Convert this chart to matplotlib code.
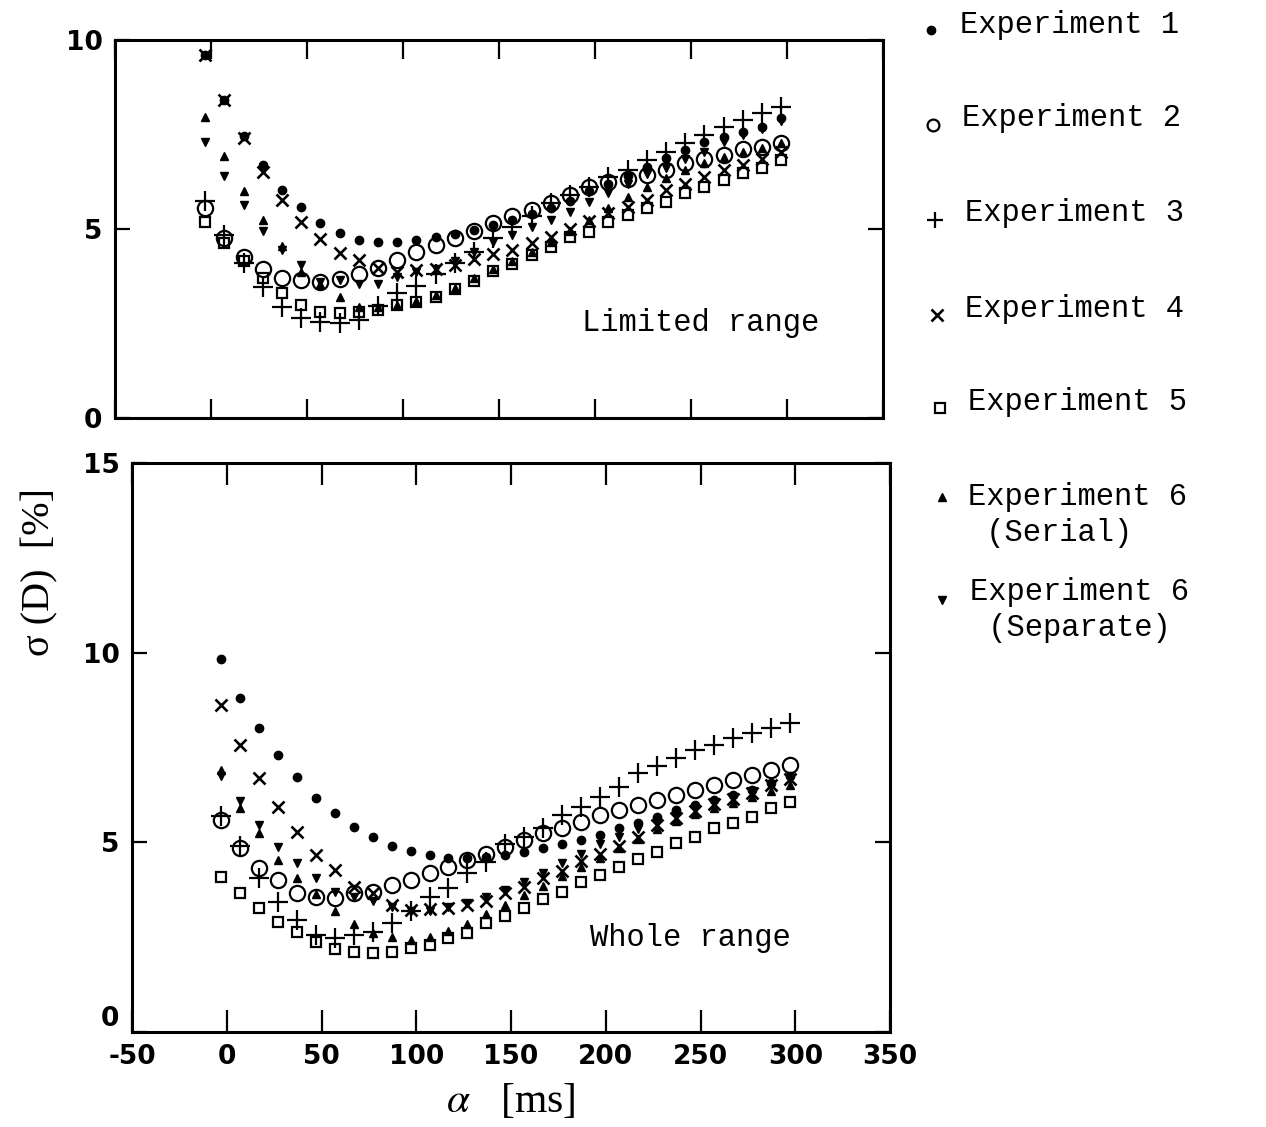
import matplotlib
matplotlib.use('Agg')
import matplotlib.pyplot as plt
from matplotlib.lines import Line2D

plt.rcParams.update({
    'font.family': 'DejaVu Sans',
    'mathtext.fontset': 'stix',
    'axes.linewidth': 2.2,
    'axes.unicode_minus': False,
})

# alpha [ms] sampling (same for every experiment)
ALPHA = [-3, 7, 17, 27, 37, 47, 57, 67, 77, 87, 97, 107, 117, 127, 137, 147,
         157, 167, 177, 187, 197, 207, 217, 227, 237, 247, 257, 267, 277, 287, 297]

# --- Limited range (top panel) ---
TOP_E1 = [9.6, 8.4, 7.45, 6.7, 6.03, 5.58, 5.16, 4.9, 4.72, 4.66, 4.66, 4.7, 4.8, 4.88, 4.98, 5.1,
          5.25, 5.4, 5.55, 5.75, 6.0, 6.2, 6.4, 6.65, 6.88, 7.1, 7.3, 7.43, 7.57, 7.7, 7.94]
TOP_E2 = [5.55, 4.76, 4.26, 3.94, 3.7, 3.65, 3.6, 3.68, 3.8, 3.97, 4.18, 4.38, 4.58, 4.76, 4.94, 5.16,
          5.35, 5.5, 5.7, 5.9, 6.1, 6.25, 6.32, 6.42, 6.55, 6.75, 6.85, 6.96, 7.12, 7.16, 7.28]
TOP_E3 = [5.75, 4.85, 4.1, 3.47, 2.94, 2.65, 2.55, 2.5, 2.6, 2.95, 3.3, 3.5, 3.8, 4.1, 4.4, 4.75,
          5.05, 5.35, 5.68, 5.9, 6.1, 6.38, 6.56, 6.83, 7.04, 7.27, 7.49, 7.7, 7.88, 8.07, 8.23]
TOP_E4 = [9.6, 8.4, 7.4, 6.5, 5.77, 5.19, 4.73, 4.36, 4.18, 3.97, 3.85, 3.92, 3.95, 4.05, 4.2, 4.33,
          4.44, 4.63, 4.79, 5.0, 5.2, 5.42, 5.58, 5.77, 6.03, 6.2, 6.38, 6.56, 6.7, 6.85, 7.05]
TOP_E5 = [5.19, 4.63, 4.15, 3.7, 3.3, 2.99, 2.8, 2.78, 2.8, 2.86, 2.99, 3.07, 3.2, 3.42, 3.63, 3.88,
          4.08, 4.31, 4.52, 4.79, 4.92, 5.19, 5.37, 5.56, 5.71, 5.95, 6.11, 6.3, 6.48, 6.61, 6.83]
TOP_E6_SER = [7.96, 6.93, 6.0, 5.25, 4.55, 3.85, 3.55, 3.2, 2.94, 2.94, 3.0, 3.1, 3.25, 3.45, 3.7, 3.95,
              4.15, 4.4, 4.65, 4.95, 5.25, 5.55, 5.85, 6.1, 6.35, 6.55, 6.75, 6.9, 7.05, 7.14, 7.28]
TOP_E6_SEP = [7.3, 6.4, 5.63, 4.95, 4.45, 4.05, 3.6, 3.65, 3.55, 3.55, 3.73, 3.85, 3.95, 4.15, 4.4, 4.66,
              4.84, 5.05, 5.25, 5.45, 5.71, 5.95, 6.2, 6.45, 6.62, 6.85, 7.05, 7.3, 7.48, 7.65, 7.85]

# --- Whole range (bottom panel) ---
BOT_E1 = [9.82, 8.81, 8.02, 7.31, 6.73, 6.17, 5.78, 5.41, 5.14, 4.91, 4.78, 4.66, 4.6, 4.6, 4.62, 4.67,
          4.75, 4.85, 4.95, 5.07, 5.2, 5.38, 5.51, 5.67, 5.86, 5.99, 6.12, 6.25, 6.38, 6.57, 6.75]
BOT_E2 = [5.59, 4.85, 4.33, 4.0, 3.67, 3.57, 3.53, 3.67, 3.7, 3.88, 4.0, 4.2, 4.35, 4.54, 4.7, 4.88,
          5.07, 5.25, 5.38, 5.54, 5.73, 5.86, 5.99, 6.12, 6.25, 6.39, 6.52, 6.65, 6.78, 6.91, 7.04]
BOT_E3 = [5.7, 4.9, 4.06, 3.43, 2.96, 2.56, 2.48, 2.56, 2.64, 2.88, 3.2, 3.55, 3.8, 4.2, 4.49, 4.95,
          5.15, 5.38, 5.73, 5.94, 6.2, 6.46, 6.83, 7.0, 7.23, 7.44, 7.57, 7.76, 7.89, 8.02, 8.15]
BOT_E4 = [8.63, 7.57, 6.7, 5.94, 5.28, 4.67, 4.27, 3.83, 3.67, 3.35, 3.22, 3.25, 3.27, 3.35, 3.45, 3.67,
          3.83, 4.05, 4.25, 4.5, 4.7, 4.9, 5.15, 5.45, 5.65, 5.82, 6.0, 6.15, 6.3, 6.5, 6.68]
BOT_E5 = [4.09, 3.67, 3.27, 2.9, 2.64, 2.37, 2.19, 2.11, 2.08, 2.11, 2.22, 2.3, 2.48, 2.61, 2.88, 3.06,
          3.27, 3.5, 3.7, 3.96, 4.14, 4.35, 4.56, 4.75, 4.99, 5.15, 5.38, 5.51, 5.67, 5.91, 6.07]
BOT_E6_SER = [6.9, 5.9, 5.25, 4.54, 4.06, 3.65, 3.2, 2.85, 2.6, 2.5, 2.42, 2.5, 2.65, 2.85, 3.1, 3.35,
              3.6, 3.85, 4.1, 4.35, 4.6, 4.85, 5.1, 5.35, 5.55, 5.75, 5.9, 6.05, 6.2, 6.35, 6.5]
BOT_E6_SEP = [6.75, 6.1, 5.45, 4.88, 4.46, 4.06, 3.7, 3.55, 3.45, 3.3, 3.2, 3.2, 3.3, 3.4, 3.55, 3.75,
              3.95, 4.2, 4.45, 4.7, 4.95, 5.15, 5.35, 5.55, 5.75, 5.9, 6.05, 6.2, 6.35, 6.5, 6.7]

# marker style per experiment: (marker, size, filled, edge width)
STYLES = [
    ('o', 6.0, True, 1.0),
    ('o', 11.0, False, 1.6),
    ('+', 15.0, True, 1.6),
    ('x', 9.0, True, 1.9),
    ('s', 7.5, False, 1.6),
    ('^', 6.0, True, 1.0),
    ('v', 6.0, True, 1.0),
]

TOP_SERIES = [TOP_E1, TOP_E2, TOP_E3, TOP_E4, TOP_E5, TOP_E6_SER, TOP_E6_SEP]
BOT_SERIES = [BOT_E1, BOT_E2, BOT_E3, BOT_E4, BOT_E5, BOT_E6_SER, BOT_E6_SEP]

LEGEND_LINES = ['Experiment 1', 'Experiment 2', 'Experiment 3', 'Experiment 4',
                'Experiment 5', 'Experiment 6\n(Serial)', 'Experiment 6\n(Separate)']

W, H = 1266, 1127
fig = plt.figure(figsize=(W / 100, H / 100), dpi=100)

# axes placed in pixel terms (the scan has the upper box slightly shifted left)
ax_top = fig.add_axes([115 / W, 1 - 418 / H, 768 / W, 378 / H])
ax_bot = fig.add_axes([132 / W, 1 - 1032 / H, 758 / W, 569 / H])

mono = 'Liberation Mono'


def draw_panel(ax, series, ymax, yticks, show_xlabels):
    for ys, (mk, ms, filled, mew) in zip(series, STYLES):
        ax.plot(ALPHA, ys, linestyle='none', marker=mk, markersize=ms,
                markerfacecolor='black' if filled else 'none',
                markeredgecolor='black', markeredgewidth=mew, clip_on=False)
    ax.set_xlim(-50, 350)
    ax.set_ylim(0, ymax)
    ax.set_xticks([-50, 0, 50, 100, 150, 200, 250, 300, 350])
    ax.set_yticks(yticks)
    ax.tick_params(direction='in', length=11, width=1.6, top=True, right=True,
                   pad=9)
    for lab in ax.get_yticklabels() + ax.get_xticklabels():
        lab.set_fontweight('bold')
        lab.set_fontsize(19)
    if not show_xlabels:
        ax.set_xticklabels([])


draw_panel(ax_top, TOP_SERIES, 10, [0, 5, 10], False)
draw_panel(ax_bot, BOT_SERIES, 15, [0, 5, 10, 15], True)
ax_top.tick_params(axis='x', length=14)
ax_bot.tick_params(axis='x', length=16)
# the lowest "0" of the lower box sits raised above the "-50" label
ax_bot.get_yticklabels()[0].set_verticalalignment('bottom')

ax_top.text(0.762, 0.251, 'Limited range', transform=ax_top.transAxes,
            family=mono, fontsize=22, ha='center', va='center')
ax_bot.text(0.736, 0.165, 'Whole range', transform=ax_bot.transAxes,
            family=mono, fontsize=22, ha='center', va='center')

ax_bot.set_xlabel(r'$\alpha$   [ms]', family='Liberation Serif', fontsize=30, labelpad=8)
fig.text(40 / W, 1 - 572 / H, 'σ (D)  [%]', family='Liberation Serif', fontsize=29,
         rotation=90, ha='center', va='center')

# legend drawn at the right side of the figure
leg_marker_xy = [(931, 30), (933, 125), (935, 220), (937, 315), (940, 408), (942, 497), (942, 600)]
leg_text_xy = [(960, 25), (962, 118), (965, 213), (965, 309), (968, 402), (968, 515), (970, 610)]
leg_sizes = [6.0, 8.5, 12.0, 8.0, 6.5, 5.5, 5.5]
for (mk, ms, filled, mew), (mx, my), (tx, ty), lms, label in zip(
        STYLES, leg_marker_xy, leg_text_xy, leg_sizes, LEGEND_LINES):
    fig.add_artist(Line2D([mx / W], [1 - my / H], transform=fig.transFigure,
                          linestyle='none', marker=mk, markersize=lms,
                          markerfacecolor='black' if filled else 'none',
                          markeredgecolor='black', markeredgewidth=mew))
    fig.text(tx / W, 1 - ty / H, label.replace('\n', '\n '), family=mono, fontsize=22,
             ha='left', va='center', linespacing=1.3)

fig.savefig('out.png', dpi=100)
